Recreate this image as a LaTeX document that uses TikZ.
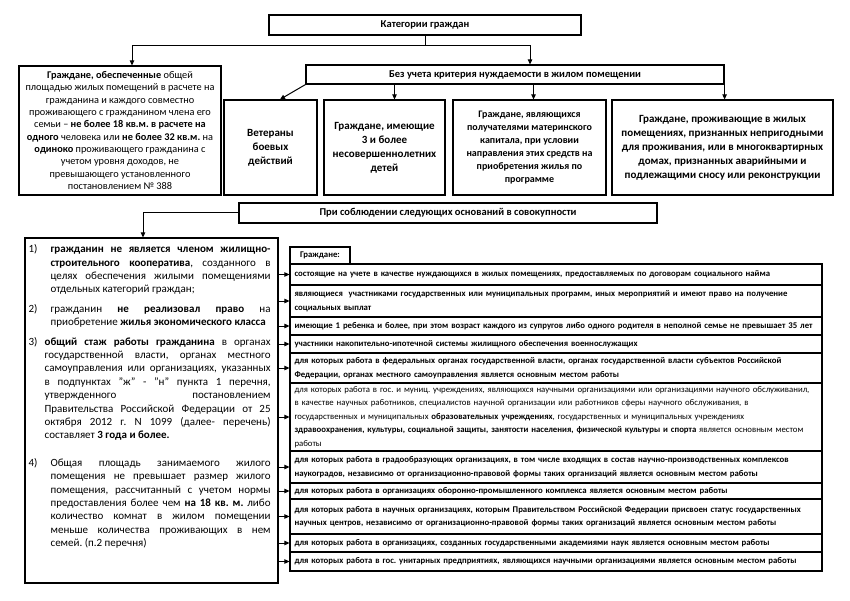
\documentclass[tikz,border=0pt]{standalone}
\usepackage{fontspec}
\setmainfont{Carlito}
\usetikzlibrary{arrows.meta,calc}
\frenchspacing
\begin{document}
\begin{tikzpicture}[x=1pt,y=-1pt,
  box/.style={draw, line width=1.2pt, inner sep=2pt, align=center},
  arr/.style={line width=1pt, -{Triangle[length=5pt,width=4.5pt]}},
  ln/.style={line width=1pt},
  bigb/.style={font=\bfseries\fontsize{10.5}{12}\selectfont},
  rowbox/.style={draw, line width=1.2pt, minimum width=532pt, text width=523pt, inner xsep=4.5pt, inner ysep=1pt, align=left, font=\fontsize{8.75}{13.5}\selectfont},
]
\useasboundingbox (0,0) rectangle (850,601);

% top
\node[box, bigb, minimum width=312pt, minimum height=20pt] (T) at (425,25) {Категории граждан};
\node[box, minimum width=202pt, minimum height=129pt, inner xsep=3pt, font=\fontsize{10.3}{12.3}\selectfont] (L1) at (120,130.5) {%
\textbf{Граждане, обеспеченные} общей\\
площадью жилых помещений в расчете на\\
гражданина и каждого совместно\\
проживающего с гражданином члена его\\
семьи -- \textbf{не более 18 кв.м. в расчете на}\\
\textbf{одного} человека или \textbf{не более 32 кв.м.} на\\
\textbf{одиноко} проживающего гражданина с\\
учетом уровня доходов, не\\
превышающего установленного\\
постановлением № 388};
\node[box, bigb, minimum width=418pt, minimum height=19pt] (B) at (515,74.5) {Без учета критерия нуждаемости в жилом помещении};
\node[box, minimum width=93pt, minimum height=95pt, font=\bfseries\fontsize{11}{14}\selectfont] (C1) at (270.5,147.5) {Ветераны\\боевых\\действий};
\node[box, minimum width=121pt, minimum height=95pt, font=\bfseries\fontsize{11}{14}\selectfont] (C2) at (384.5,147.5) {Граждане, имеющие\\3 и более\\несовершеннолетних\\детей};
\node[box, minimum width=153pt, minimum height=95pt, font=\bfseries\fontsize{10}{13}\selectfont] (C3) at (529.5,147.5) {Граждане, являющихся\\получателями материнского\\капитала, при условии\\направления этих средств на\\приобретения жилья по\\программе};
\node[box, minimum width=221pt, minimum height=95pt, font=\bfseries\fontsize{11}{14}\selectfont] (C4) at (722.5,147.5) {Граждане, проживающие в жилых\\помещениях, признанных непригодными\\для проживания, или в многоквартирных\\домах, признанных аварийными и\\подлежащими сносу или реконструкции};

\coordinate (j) at (T.south |- 0,46);
\draw[ln] (T.south) -- (j);
\draw[arr] (j) -| ([xshift=12pt]L1.north);
\draw[arr] (j) -| ([xshift=15pt]B.north);
\draw[arr] (B.south west) -- ([xshift=9.5pt]C1.north);
\draw[arr] ([xshift=10pt]C2.north |- B.south) -- ([xshift=10pt]C2.north);
\draw[arr] ([xshift=4pt]C3.north |- B.south) -- ([xshift=4pt]C3.north);
\draw[arr] (B.south east) -- (B.south east |- C4.north);

% middle
\node[box, bigb, minimum width=418pt, minimum height=20pt] (P) at (448,213) {При соблюдении следующих оснований в совокупности};
\node[draw, line width=1.2pt, minimum width=253pt, minimum height=345pt] (L2) at (151.5,410.5) {};
\draw[arr] (P.west) -| ([xshift=-8.5pt]L2.north);
\node[anchor=north west, inner sep=0pt, text width=242pt, align=justify, font=\fontsize{11}{13.4}\selectfont] (L2t) at ([xshift=4pt,yshift=-7pt]L2.north west) {%
\noindent\hangindent=22pt\hangafter=1\makebox[22pt][l]{1)}\textbf{гражданин не является членом жилищно-}\linebreak\textbf{строительного кооператива}, созданного в\linebreak целях обеспечения жилыми помещениями\linebreak отдельных категорий граждан;\par
\vspace{6pt}
\noindent\hangindent=22pt\hangafter=1\makebox[22pt][l]{2)}гражданин \textbf{не реализовал право} на\linebreak приобретение \textbf{жилья экономического класса}\par
\vspace{6pt}
\noindent\hangindent=16pt\hangafter=1\makebox[16pt][l]{3)}\textbf{общий стаж работы гражданина} в органах\linebreak государственной власти, органах местного\linebreak самоуправления или организациях, указанных\linebreak в подпунктах "ж" - "н" пункта 1 перечня,\linebreak утвержденного постановлением\linebreak Правительства Российской Федерации от 25\linebreak октября 2012 г. N 1099 (далее- перечень)\linebreak составляет \textbf{3 года и более.}\par
\vspace{14pt}
\noindent\hangindent=22pt\hangafter=1\makebox[22pt][l]{4)}Общая площадь занимаемого жилого\linebreak помещения не превышает размер жилого\linebreak помещения, рассчитанный с учетом нормы\linebreak предоставления более чем \textbf{на 18 кв. м.} либо\linebreak количество комнат в жилом помещении\linebreak меньше количества проживающих в нем\linebreak семей. (п.2 перечня)\par};

% right panel
\node[draw, line width=1.2pt, minimum width=60pt, minimum height=17pt, inner sep=1pt, font=\bfseries\fontsize{8.75}{10}\selectfont] (G) at (320,255.5) {Граждане:};
\node[rowbox, minimum height=21pt] (r1) at (556,274.5) {\textbf{состоящие на учете в качестве нуждающихся в жилых помещениях, предоставляемых по договорам социального найма}};
\node[rowbox, minimum height=32pt] (r2) at (556,301) {\textbf{являющиеся \ участниками государственных или муниципальных программ, иных мероприятий и имеют право на получение}\\\textbf{социальных выплат}};
\node[rowbox, minimum height=18pt] (r3) at (556,326) {\textbf{имеющие 1 ребенка и более, при этом возраст каждого из супругов либо одного родителя в неполной семье не превышает 35 лет}};
\node[rowbox, minimum height=18pt] (r4) at (556,344) {\textbf{участники накопительно-ипотечной системы жилищного обеспечения военнослужащих}};
\node[rowbox, minimum height=30pt] (r5) at (556,368) {\textbf{для которых работа в федеральных органах государственной власти, органах государственной власти субъектов Российской}\\\textbf{Федерации, органах местного самоуправления является основным местом работы}};
\node[rowbox, minimum height=68pt] (r6) at (556,417) {для которых работа в гос. и муниц. учреждениях, являющихся научными организациями или организациями научного обслуживанил,\\в качестве научных работников, специалистов научной организации или работников сферы научного обслуживания, в\\государственных и муниципальных \textbf{образовательных учреждениях}, государственных и муниципальных учреждениях\\\textbf{здравоохранения, культуры, социальной защиты, занятости населения, физической культуры и спорта} является основным местом\\работы};
\node[rowbox, minimum height=32pt] (r7) at (556,467) {\textbf{для которых работа в градообразующих организациях, в том числе входящих в состав научно-производственных комплексов}\\\textbf{наукоградов, независимо от организационно-правовой формы таких организаций является основным местом работы}};
\node[rowbox, minimum height=16pt] (r8) at (556,491) {\textbf{для которых работа в организациях оборонно-промышленного комплекса является основным местом работы}};
\node[rowbox, minimum height=35pt] (r9) at (556,516.5) {\textbf{для которых работа в научных организациях, которым Правительством Российской Федерации присвоен статус государственных}\\\textbf{научных центров, независимо от организационно-правовой формы таких организаций является основным местом работы}};
\node[rowbox, minimum height=18pt] (r10) at (556,543) {\textbf{для которых работа в организациях, созданных государственными академиями наук является основным местом работы}};
\node[rowbox, minimum height=19pt] (r11) at (556,561.5) {\textbf{для которых работа в гос. унитарных предприятиях, являющихся научными организациями является основным местом работы}};

\foreach \r in {r1,r2,r3,r4,r5,r6,r7,r8,r9,r10,r11}
  \draw[arr] (L2.east |- \r.west) -- (\r.west);
\end{tikzpicture}
\end{document}
